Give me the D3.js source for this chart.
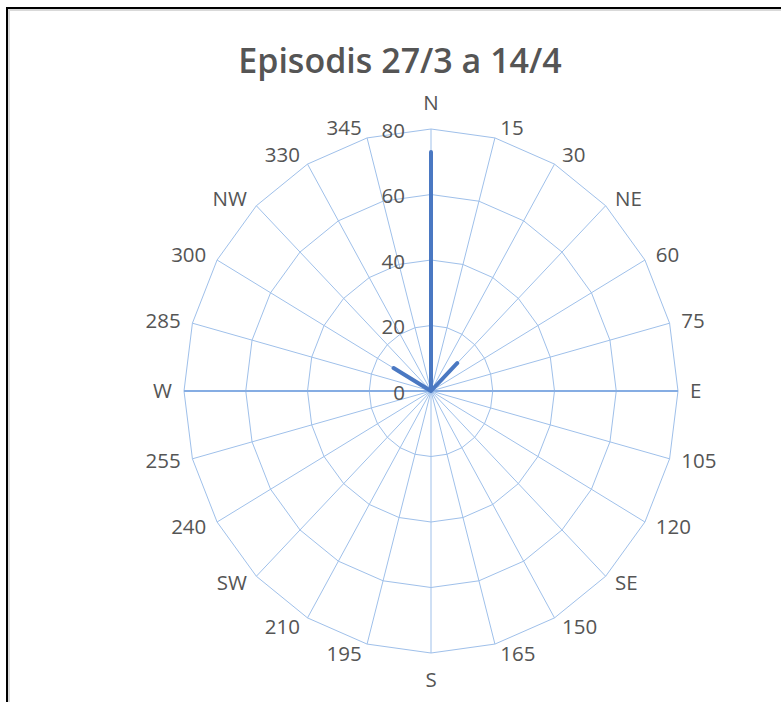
<!DOCTYPE html>
<html>
<head>
<meta charset="utf-8">
<script src="https://cdn.jsdelivr.net/npm/d3@7"></script>
<style>
  html, body { margin: 0; padding: 0; background: #ffffff; }
  svg { display: block; }
</style>
</head>
<body>
<svg id="chart" width="781" height="702"></svg>
<script>
// ---- data ----
const title = "Episodis 27/3 a 14/4";
const directions = ["N","15","30","NE","60","75","E","105","120","SE","150","165",
                    "S","195","210","SW","240","255","W","285","300","NW","330","345"];
const values =     [73, 0, 0, 12, 0, 0, 0, 0, 0, 0, 0, 0,
                    0, 0, 0, 0, 0, 0, 0, 0, 14, 0, 0, 0];
const ringTicks = [0, 20, 40, 60, 80];

// ---- layout ----
const svg = d3.select("#chart");
const cx = 431, cy = 391, rx = 247, ry = 262;
const font = "'Open Sans', 'DejaVu Sans', sans-serif";
const textColor = "#555555";
const gridColor = "#9fc0ea";
const lineColor = "#4a78c2";

const rScale = d3.scaleLinear().domain([0, 80]).range([0, 1]);
const aScale = d3.scaleLinear().domain([0, directions.length]).range([0, 2 * Math.PI]);
const px = (i, v) => cx + rx * rScale(v) * Math.sin(aScale(i));
const py = (i, v) => cy - ry * rScale(v) * Math.cos(aScale(i));

// border of the chart area
svg.append("line").attr("x1", 6).attr("x2", 781).attr("y1", 8).attr("y2", 8)
  .attr("stroke", "#000").attr("stroke-width", 2);
svg.append("line").attr("x1", 7).attr("x2", 7).attr("y1", 7).attr("y2", 702)
  .attr("stroke", "#000").attr("stroke-width", 2);
svg.append("line").attr("x1", 8).attr("x2", 781).attr("y1", 10).attr("y2", 10)
  .attr("stroke", "#d9d9d9").attr("stroke-width", 2);
svg.append("line").attr("x1", 9).attr("x2", 9).attr("y1", 9).attr("y2", 702)
  .attr("stroke", "#d9d9d9").attr("stroke-width", 2);

// title
svg.append("text").attr("x", 400).attr("y", 73)
  .attr("text-anchor", "middle")
  .attr("font-family", font).attr("font-size", 34).attr("font-weight", 600)
  .attr("fill", textColor).text(title);

const g = svg.append("g");

// rings
const ringLine = d3.line().x(d => d[0]).y(d => d[1]);
ringTicks.filter(t => t > 0).forEach(t => {
  const pts = directions.map((d, i) => [px(i, t), py(i, t)]);
  pts.push(pts[0]);
  g.append("path").attr("d", ringLine(pts))
    .attr("fill", "none").attr("stroke", gridColor).attr("stroke-width", 1);
});

// spokes
g.selectAll("line.spoke").data(directions).enter().append("line")
  .attr("class", "spoke")
  .attr("x1", cx).attr("y1", cy)
  .attr("x2", (d, i) => px(i, 80)).attr("y2", (d, i) => py(i, 80))
  .attr("stroke", (d) => (d === "E" || d === "W") ? "#86ade3" : gridColor)
  .attr("stroke-width", (d) => (d === "E" || d === "W") ? 2 : 1);

// tick labels
g.selectAll("text.tick").data(ringTicks).enter().append("text")
  .attr("class", "tick")
  .attr("x", cx - 26)
  .attr("y", d => py(0, d) + 8.5)
  .attr("text-anchor", "end")
  .attr("font-family", font).attr("font-size", 20.5)
  .attr("fill", textColor)
  .text(d => d);

// category labels
g.selectAll("text.cat").data(directions).enter().append("text")
  .attr("class", "cat")
  .each(function (d, i) {
    const a = aScale(i), s = Math.sin(a), c = Math.cos(a);
    const x0 = px(i, 80), y0 = py(i, 80);
    let anchor = "middle", x = x0, yc;
    if (s > 0.01) { anchor = "start"; x = x0 + 3 + 9 * Math.abs(s); }
    else if (s < -0.01) { anchor = "end"; x = x0 - (3 + 9 * Math.abs(s)); }
    if (Math.abs(s) < 0.01) yc = y0 - c * 26.5;
    else yc = y0 - c * 10;
    d3.select(this).attr("x", x).attr("y", yc + 7).attr("text-anchor", anchor);
  })
  .attr("font-family", font).attr("font-size", 20.5)
  .attr("fill", textColor)
  .text(d => d);

// data series
const series = d3.line()
  .x((d, i) => px(i, d))
  .y((d, i) => py(i, d))
  .curve(d3.curveLinearClosed);
g.append("path").datum(values)
  .attr("d", series)
  .attr("fill", "none")
  .attr("stroke", lineColor)
  .attr("stroke-width", 4)
  .attr("stroke-linejoin", "round")
  .attr("stroke-linecap", "round");
</script>
</body>
</html>
